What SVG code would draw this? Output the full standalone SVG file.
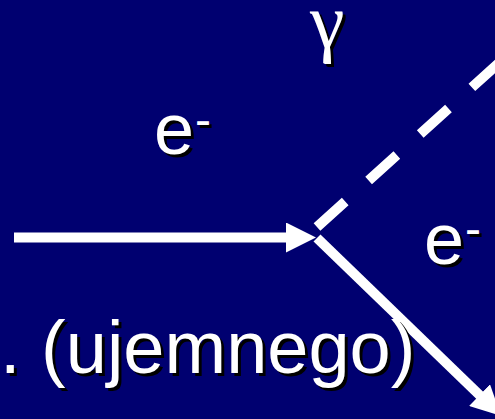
<svg xmlns="http://www.w3.org/2000/svg" width="495" height="419" viewBox="0 0 495 419">
<defs>
<style>
.t{font-family:"Liberation Sans",Arial,sans-serif;font-size:72px;fill:#fff}
.cap{font-size:74px}
.sup{font-size:48px}
.g{font-family:"Liberation Serif","Times New Roman",serif;font-size:78px}
.sh{fill:#000}
.ln{stroke:#fff;stroke-width:10;fill:none}
.dash{stroke-dasharray:38 31.5}
</style>
<marker id="ah" markerUnits="userSpaceOnUse" markerWidth="30" markerHeight="30" refX="2" refY="15" orient="auto" viewBox="0 0 30 30">
<path d="M0,0 L30,15 L0,30 Z" fill="#fff"/>
</marker>
</defs>
<rect width="495" height="419" fill="#000070"/>
<g id="connectors">
<line class="ln" x1="14" y1="237.5" x2="288" y2="237.5" marker-end="url(#ah)"/>
<line class="ln dash" x1="317" y1="227" x2="520" y2="44"/>
<line class="ln" x1="317" y1="238" x2="481" y2="396.5" marker-end="url(#ah)"/>
</g>
<g id="label-gamma">
<text class="t g sh" x="313" y="50">γ</text>
<text class="t g" x="310" y="47">γ</text>
</g>
<g id="label-e-in">
<text class="t sh" x="157" y="157">e</text>
<text class="t sup sh" x="198" y="139">-</text>
<text class="t" x="154" y="154">e</text>
<text class="t sup" x="195" y="136">-</text>
</g>
<g id="label-e-out">
<text class="t sh" x="427" y="267">e</text>
<text class="t sup sh" x="468" y="248">-</text>
<text class="t" x="424" y="264">e</text>
<text class="t sup" x="465" y="245">-</text>
</g>
<g id="label-caption">
<text class="t cap sh" x="3" y="376">. (ujemnego)</text>
<text class="t cap" x="0" y="373">. (ujemnego)</text>
</g>
</svg>
